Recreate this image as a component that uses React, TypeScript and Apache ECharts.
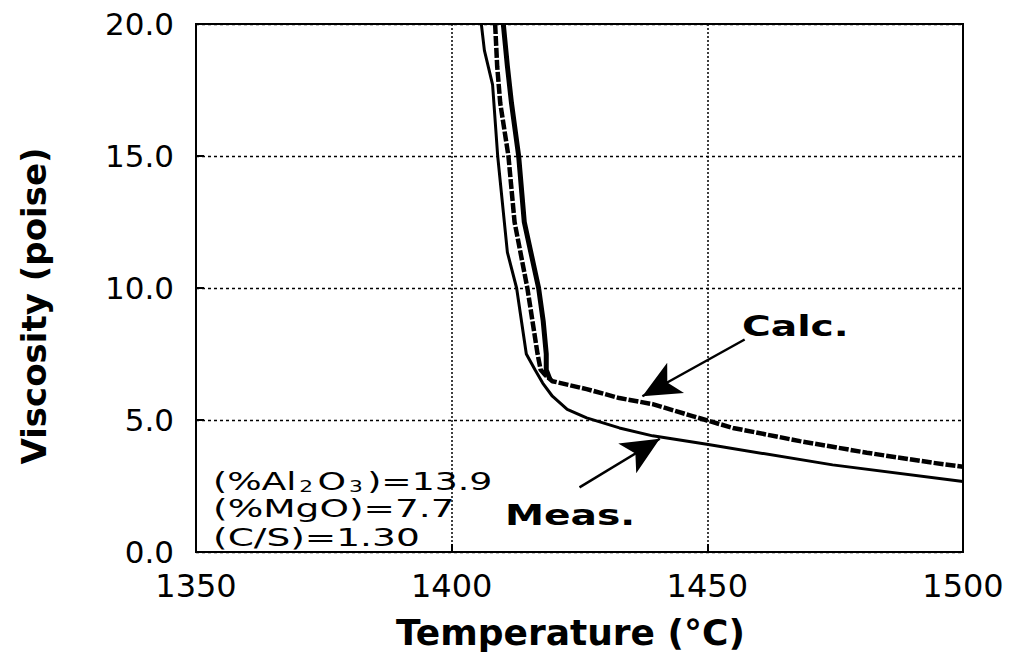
import React, { useEffect, useRef } from "react";
import * as echarts from "echarts";

// Temperature (°C) vs viscosity (poise)
const xTicks = [1350, 1400, 1450, 1500];
const yTicks = [0, 5, 10, 15, 20];

const measured: [number, number][] = [
  [1405.8, 20], [1406.4, 19.0], [1408.0, 17.7], [1409.0, 15.0], [1410.9, 11.35],
  [1412.7, 10.0], [1414.6, 7.5], [1416.3, 6.9], [1417.8, 6.4], [1419.7, 5.9],
  [1422.6, 5.4], [1426.4, 5.08], [1432.8, 4.7], [1439.3, 4.4], [1449.9, 4.08],
  [1474.5, 3.3], [1500, 2.67],
];

const calculated: [number, number][] = [
  [1408.5, 20], [1408.9, 18.4], [1409.5, 17.0], [1411.1, 15.0], [1412.3, 12.5],
  [1414.8, 10.0], [1415.8, 8.75], [1416.8, 7.5], [1417.4, 6.9], [1418.3, 6.7],
  [1419.7, 6.47], [1426.4, 6.17], [1432.8, 5.83], [1439.3, 5.6], [1447.1, 5.15],
  [1450, 4.98], [1455, 4.7], [1468.1, 4.2], [1481.2, 3.76], [1494.1, 3.38], [1500, 3.23],
];

const calculatedBand: [number, number][] = [
  [1410.1, 20], [1410.9, 18.4], [1411.7, 17.0], [1413.1, 15.0], [1414.2, 12.5],
  [1417.0, 10.0], [1417.9, 8.75], [1418.5, 7.5], [1418.5, 6.9], [1419.2, 6.55],
];

const calcArrow = { from: [1457.3, 8.05], to: [1437.3, 5.9] };
const measArrow = { from: [1425.0, 2.45], to: [1440.7, 4.29] };

const compositionLines = ["(%MgO)=7.7", "(C/S)=1.30"];

export default function App() {
  const ref = useRef<HTMLDivElement>(null);
  useEffect(() => {
    if (!ref.current) return;
    const chart = echarts.init(ref.current, undefined, { renderer: "svg" });
    const arrowLine = (a: { from: number[]; to: number[] }) => [
      { coord: a.from },
      { coord: a.to },
    ];
    const wide = 1.4;
    chart.setOption({
      animation: false,
      backgroundColor: "#fff",
      grid: {
        left: 196, right: 52, top: 24, bottom: 98,
        show: true, borderColor: "#000", borderWidth: 2,
      },
      xAxis: {
        type: "value", min: xTicks[0], max: xTicks[xTicks.length - 1], interval: 50,
        name: "Temperature (°C)", nameLocation: "middle", nameGap: 62,
        nameTextStyle: { fontFamily: "DejaVu Sans", fontSize: 36, fontWeight: "bold", color: "#000", padding: [0, 18, 0, 0] },
        axisLine: { show: true, lineStyle: { color: "#000", width: 2 } },
        axisTick: { show: true, inside: true, length: 8, lineStyle: { color: "#000", width: 2 } },
        axisLabel: {
          fontFamily: "DejaVu Sans", fontSize: 32, color: "#000", margin: 18,
          formatter: (v: number) => String(v),
        },
        splitLine: { show: true, lineStyle: { color: "#000", type: [2, 2], width: 1.5 } },
      },
      yAxis: {
        type: "value", min: yTicks[0], max: yTicks[yTicks.length - 1], interval: 5,
        name: "Viscosity (poise)", nameLocation: "middle", nameGap: 145,
        nameTextStyle: {
          fontFamily: "DejaVu Sans", fontSize: 34, fontWeight: "bold", color: "#000",
          padding: [0, 36, 0, 0],
        },
        axisLine: { show: true, lineStyle: { color: "#000", width: 2 } },
        axisTick: { show: true, inside: true, length: 8, lineStyle: { color: "#000", width: 2 } },
        axisLabel: {
          fontFamily: "DejaVu Sans", fontSize: 31, color: "#000", margin: 22,
          formatter: (v: number) => v.toFixed(1),
        },
        splitLine: { show: true, lineStyle: { color: "#000", type: [3, 3], width: 1.3 } },
      },
      series: [
        {
          name: "Meas.", type: "line", data: measured, symbol: "none",
          lineStyle: { color: "#000", width: 3 },
          markLine: {
            silent: true, symbol: ["none", "arrow"], symbolSize: [26, 38],
            label: { show: false },
            lineStyle: { color: "#000", width: 2.5, type: "solid" },
            data: [arrowLine(calcArrow), arrowLine(measArrow)],
          },
        },
        {
          name: "Calc.", type: "line", data: calculated, symbol: "none",
          lineStyle: { color: "#000", width: 4.5, type: [10, 2] },
        },
        {
          name: "Calc. band", type: "line", data: calculatedBand, symbol: "none",
          lineStyle: { color: "#000", width: 5 },
        },
      ],
      graphic: [
        {
          type: "text", x: 742, y: 326, scaleX: wide,
          style: { text: "Calc.", fontFamily: "DejaVu Sans", fontSize: 28, fontWeight: "bold", fill: "#000", align: "left", verticalAlign: "middle" },
        },
        {
          type: "text", x: 505, y: 515, scaleX: wide,
          style: { text: "Meas.", fontFamily: "DejaVu Sans", fontSize: 28, fontWeight: "bold", fill: "#000", align: "left", verticalAlign: "middle" },
        },
        {
          type: "text", x: 213, y: 481, scaleX: 1.45,
          style: {
            text: "{a|(%Al}{s|2}{a|O}{s|3}{a|)=13.9}",
            fill: "#000", align: "left", verticalAlign: "middle",
            rich: {
              a: { fontFamily: "DejaVu Sans", fontSize: 25, fill: "#000" },
              s: { fontFamily: "DejaVu Sans", fontSize: 15, fill: "#000", padding: [12, 3, 0, 2] },
            },
          },
        },
        ...compositionLines.map((t, i) => ({
          type: "text", x: 213, y: 508 + i * 29.5, scaleX: 1.5,
          style: { text: t, fontFamily: "DejaVu Sans", fontSize: 25, fill: "#000", align: "left", verticalAlign: "middle" },
        })),
      ],
    });
    return () => chart.dispose();
  }, []);
  return (
    <div
      ref={ref}
      style={{ position: "fixed", left: 0, top: 0, width: 1015, height: 655, background: "#fff" }}
    />
  );
}
